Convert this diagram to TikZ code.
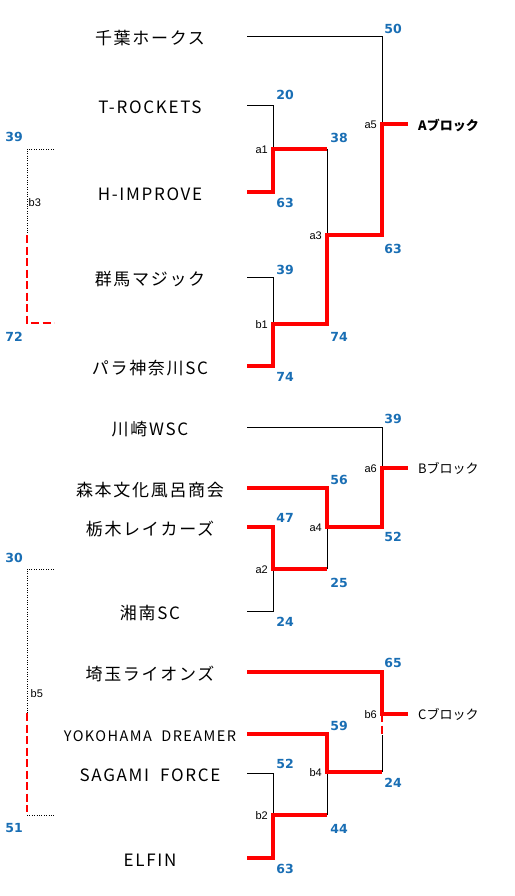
\documentclass[tikz,border=0pt]{standalone}
\usepackage{fontspec}
\setmainfont{Liberation Sans}
\newfontfamily\jp[LetterSpace=10]{Noto Sans CJK JP}
\newfontfamily\jpblk{Noto Sans CJK JP}
\newfontfamily\numfont{DejaVu Sans}
\usetikzlibrary{positioning}
\definecolor{scoreblue}{RGB}{25,110,180}
\tikzset{
  team/.style={font=\jp\fontsize{17}{17}\selectfont, inner sep=0pt},
  pts/.style={font=\numfont\bfseries\fontsize{12.5}{12.5}\selectfont, text=scoreblue, inner sep=0pt},
  tag/.style={font=\fontsize{11}{11}\selectfont, inner sep=0.5pt},
  blk/.style={font=\jpblk\fontsize{13}{13}\selectfont, anchor=west, inner xsep=10pt, inner ysep=0pt},
  wire/.style={line width=0.8pt},
  win/.style={red, line width=3.2pt},
  windash/.style={red, line width=2.2pt, dash pattern=on 8pt off 3.5pt},
  dots/.style={line width=0.8pt, dash pattern=on 1pt off 1.4pt}
}
\begin{document}
\begin{tikzpicture}[x=1pt,y=-1pt]
\useasboundingbox (0,0) rectangle (514,896);
\foreach \i/\ty/\name in {1/36/千葉ホークス, 2/105/T-ROCKETS, 3/192/H-IMPROVE, 4/277/群馬マジック,
  5/366/パラ神奈川SC, 6/427/川崎WSC, 7/488/森本文化風呂商会, 8/527/栃木レイカーズ, 9/611/湘南SC,
  10/672/埼玉ライオンズ, 11/734/{\fontsize{14.5}{14.5}\selectfont YOKOHAMA\ \ DREAMER},
  12/773/{SAGAMI\ \ FORCE}, 13/858/ELFIN} {
  \node[team] (t\i) at (150,\ty+2) {\name};
  \coordinate (s\i) at (247,\ty);
}
\foreach \n/\jx/\jy in {a1/273/149, b1/273/324, a3/327/235, a5/382/124, a2/273/569, a4/327/527,
  a6/382/468, b2/273/815, b4/327/772, b6/382/714} {
  \coordinate (\n) at (\jx,\jy);
  \node[tag, left=4.5pt of \n, yshift=-1pt] (l\n) {\n};
}
\coordinate (b6cut) at (382,735);
\node[blk, font=\jpblk\bfseries\fontsize{13}{13}\selectfont] (blkA) at (408,125) {Aブロック};
\node[blk] (blkB) at (408,468) {Bブロック};
\node[blk] (blkC) at (408,714) {Cブロック};

\draw[wire] (s2) -| (a1);
\draw[wire] (a1 -| a3) -- (a3);
\draw[wire] (s4) -| (b1);
\draw[wire] (s1) -| (a5);
\draw[wire] (s9) -| (a2);
\draw[wire] (a2 -| a4) -- (a4);
\draw[wire] (s6) -| (a6);
\draw[wire] (s12) -| (b2);
\draw[wire] (b2 -| b4) -- (b4);
\draw[wire] (b6cut) -- (b4 -| b6);

\draw[win] (s3) -| (a1) -- (a1 -| a3);
\draw[win] (s5) -| (b1) -| (a3) -| (a5) -- (blkA.west |- a5);
\draw[win] (s8) -| (a2) -- (a2 -| a4);
\draw[win] (s7) -| (a4) -| (a6) -- (blkB.west);
\draw[win] (s13) -| (b2) -- (b2 -| b4);
\draw[win] (s11) -| (b4) -- (b4 -| b6);
\draw[win] (s10) -| (b6) -- (blkC.west);
\draw[windash] (b6) -- (b6cut);

\coordinate (b3t) at (27,149); \coordinate (b3m) at (27,235); \coordinate (b3b) at (27,323);
\coordinate (b3te) at (54,149); \coordinate (b3be) at (54,323);
\draw[dots] (b3te) -- (b3t) -- (b3m);
\draw[windash] (b3m) -- (b3b) -- (b3be);
\node[tag, anchor=west] (lb3) at (28,203) {b3};
\coordinate (b5t) at (27,569); \coordinate (b5m) at (27,713); \coordinate (b5b) at (27,812);
\coordinate (b5te) at (54,569); \coordinate (b5c) at (27,815); \coordinate (b5be) at (54,815);
\draw[dots] (b5te) -- (b5t) -- (b5m);
\draw[windash] (b5m) -- (b5b);
\draw[dots] (b5c) -- (b5be);
\node[tag, anchor=west] (lb5) at (30,694) {b5};

\foreach \px/\py/\v [count=\k] in {393/29/50, 285/95/20, 339/138/38, 285/203/63, 393/249/63,
  285/270/39, 339/337/74, 285/377/74, 393/419/39, 339/480/56, 285/518/47, 393/537/52,
  339/583/25, 285/622/24, 393/663/65, 339/726/59, 285/764/52, 393/783/24, 339/829/44,
  285/869/63, 14/137/39, 14/337/72, 14/558/30, 14/828/51}
  \node[pts] (p\k) at (\px,\py) {\v};
\end{tikzpicture}
\end{document}
